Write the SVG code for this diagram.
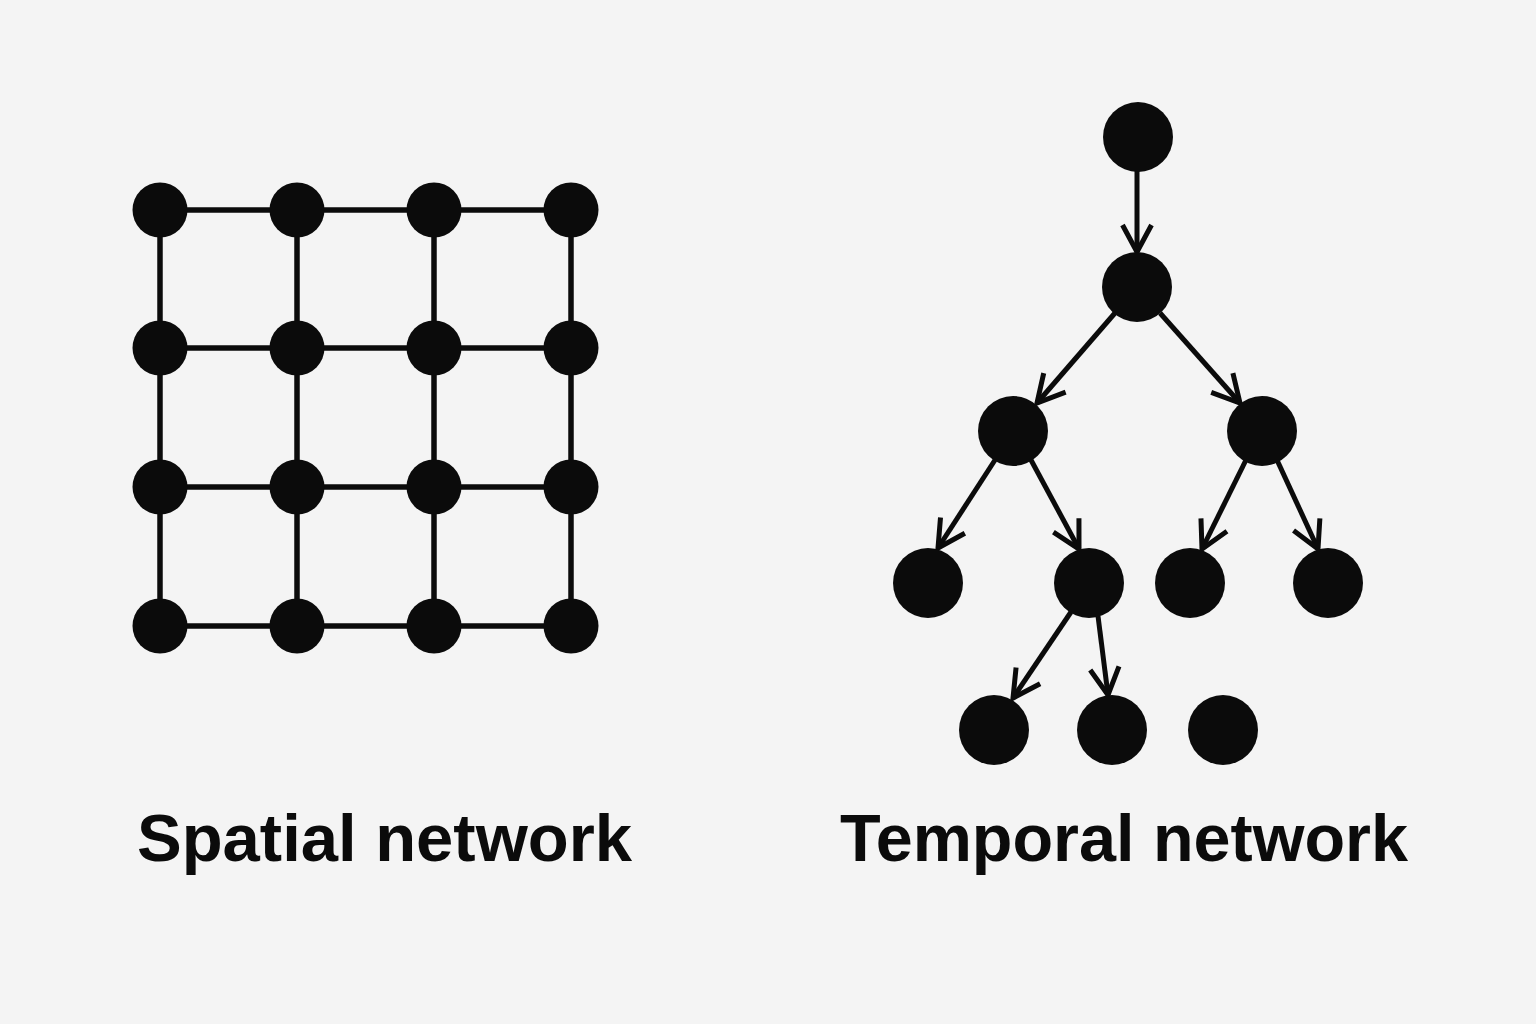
<svg xmlns="http://www.w3.org/2000/svg" width="1536" height="1024" viewBox="0 0 1536 1024">
<defs>
<style>
.n{fill:#0b0b0b}
.g line{stroke:#0b0b0b;stroke-width:5.5;stroke-linecap:butt}
.e line{stroke:#0b0b0b;stroke-width:5;marker-end:url(#arr)}
.lbl{font-family:"Liberation Sans",Arial,sans-serif;font-weight:bold;font-size:67px;fill:#0b0b0b}
</style>
<marker id="arr" markerUnits="userSpaceOnUse" viewBox="-32 -20 38 40" refX="0" refY="0" markerWidth="38" markerHeight="40" orient="auto" overflow="visible">
<path d="M-27,-14.5 L0,0 L-27,14.5" fill="none" stroke="#0b0b0b" stroke-width="5" stroke-linejoin="miter" stroke-linecap="butt"/>
</marker>
</defs>
<rect width="1536" height="1024" fill="#f4f4f4"/>

<g id="grid-connectors" class="g">
<line x1="160" y1="210" x2="571" y2="210"/>
<line x1="160" y1="348" x2="571" y2="348"/>
<line x1="160" y1="487" x2="571" y2="487"/>
<line x1="160" y1="626" x2="571" y2="626"/>
<line x1="160" y1="210" x2="160" y2="626"/>
<line x1="297" y1="210" x2="297" y2="626"/>
<line x1="434" y1="210" x2="434" y2="626"/>
<line x1="571" y1="210" x2="571" y2="626"/>
</g>

<g id="grid-nodes">
<circle id="s11" class="n" cx="160" cy="210" r="27.5"/>
<circle id="s12" class="n" cx="297" cy="210" r="27.5"/>
<circle id="s13" class="n" cx="434" cy="210" r="27.5"/>
<circle id="s14" class="n" cx="571" cy="210" r="27.5"/>
<circle id="s21" class="n" cx="160" cy="348" r="27.5"/>
<circle id="s22" class="n" cx="297" cy="348" r="27.5"/>
<circle id="s23" class="n" cx="434" cy="348" r="27.5"/>
<circle id="s24" class="n" cx="571" cy="348" r="27.5"/>
<circle id="s31" class="n" cx="160" cy="487" r="27.5"/>
<circle id="s32" class="n" cx="297" cy="487" r="27.5"/>
<circle id="s33" class="n" cx="434" cy="487" r="27.5"/>
<circle id="s34" class="n" cx="571" cy="487" r="27.5"/>
<circle id="s41" class="n" cx="160" cy="626" r="27.5"/>
<circle id="s42" class="n" cx="297" cy="626" r="27.5"/>
<circle id="s43" class="n" cx="434" cy="626" r="27.5"/>
<circle id="s44" class="n" cx="571" cy="626" r="27.5"/>
</g>

<g id="tree-connectors" class="e">
<line x1="1137" y1="170" x2="1137" y2="252"/>
<line x1="1115" y1="313" x2="1037" y2="403"/>
<line x1="1160" y1="313" x2="1240" y2="403"/>
<line x1="995" y1="460" x2="938" y2="548"/>
<line x1="1031" y1="460" x2="1079" y2="549"/>
<line x1="1246" y1="460" x2="1202" y2="549"/>
<line x1="1277" y1="460" x2="1318" y2="549"/>
<line x1="1071" y1="612" x2="1013" y2="698"/>
<line x1="1098" y1="616" x2="1108" y2="695"/>
</g>

<g id="tree-nodes">
<circle id="t1" class="n" cx="1138" cy="137" r="35"/>
<circle id="t2" class="n" cx="1137" cy="287" r="35"/>
<circle id="t3a" class="n" cx="1013" cy="431" r="35"/>
<circle id="t3b" class="n" cx="1262" cy="431" r="35"/>
<circle id="t4a" class="n" cx="928" cy="583" r="35"/>
<circle id="t4b" class="n" cx="1089" cy="583" r="35"/>
<circle id="t4c" class="n" cx="1190" cy="583" r="35"/>
<circle id="t4d" class="n" cx="1328" cy="583" r="35"/>
<circle id="t5a" class="n" cx="994" cy="730" r="35"/>
<circle id="t5b" class="n" cx="1112" cy="730" r="35"/>
<circle id="t5c" class="n" cx="1223" cy="730" r="35"/>
</g>

<g id="labels">
<text class="lbl" x="137" y="861" textLength="495" lengthAdjust="spacingAndGlyphs">Spatial network</text>
<text class="lbl" x="840" y="861" textLength="568" lengthAdjust="spacingAndGlyphs">Temporal network</text>
</g>
</svg>
